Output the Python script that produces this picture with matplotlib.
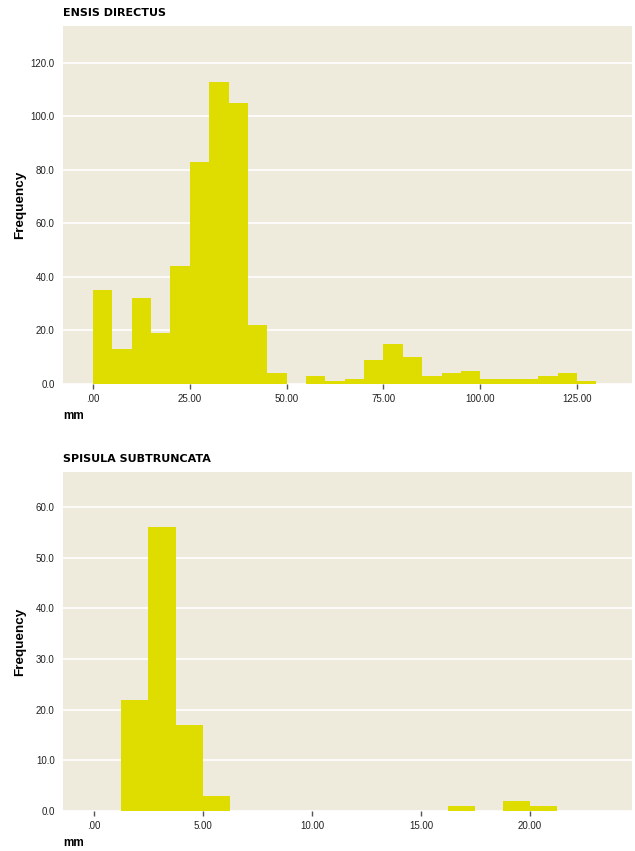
import numpy as np
import matplotlib
matplotlib.use('Agg')
import matplotlib.pyplot as plt
from matplotlib.ticker import FuncFormatter

# Datos
ensis_edges = np.arange(0, 135, 5)
ensis_counts = [35, 13, 32, 19, 44, 83, 113, 105, 22, 4, 0, 3, 1, 2, 9, 15, 10,
                3, 4, 5, 2, 2, 2, 3, 4, 1]

spisula_edges = np.arange(0, 22.5, 1.25)
spisula_counts = [0, 22, 56, 17, 3, 0, 0, 0, 0, 0, 0, 0, 0, 1, 0, 2, 1]

ensis_ticks = [0, 25, 50, 75, 100, 125]
spisula_ticks = [0, 5, 10, 15, 20]

bar_color = '#dfdc00'
bg_color = '#eeebdc'

plt.rcParams['font.family'] = ['Liberation Sans', 'DejaVu Sans']

fig = plt.figure(figsize=(6.35, 8.51), dpi=100)


def fmt_x(v, pos):
    s = '%.2f' % v
    return s[1:] if s.startswith('0') else s


def fmt_y(v, pos):
    return '%.1f' % v


def draw(ax, edges, counts, ticks, xlim, ylim, ystep, title):
    ax.set_facecolor(bg_color)
    widths = np.diff(edges)
    ax.bar(edges[:-1], counts, width=widths, align='edge', color=bar_color,
           linewidth=0, zorder=3)
    ax.set_xlim(*xlim)
    ax.set_ylim(*ylim)
    ax.set_yticks(np.arange(0, ylim[1], ystep))
    ax.set_xticks(ticks)
    ax.xaxis.set_major_formatter(FuncFormatter(fmt_x))
    ax.yaxis.set_major_formatter(FuncFormatter(fmt_y))
    ax.grid(axis='y', color='white', linewidth=1.2, zorder=1)
    for s in ax.spines.values():
        s.set_visible(False)
    ax.tick_params(axis='y', length=0, labelsize=7, labelcolor='#222222', pad=6)
    ax.tick_params(axis='x', length=3.5, width=1, color='#555555', labelsize=7,
                   labelcolor='#222222', pad=4)
    ax.set_ylabel('Frequency', fontsize=9.7, fontweight='bold')
    ax.yaxis.set_label_coords(-0.065, 0.5)
    ax.set_title(title, loc='left', fontsize=8, fontweight='heavy',
                 family='DejaVu Sans', pad=7)
    ax.annotate('mm', xy=(0, 0), xycoords='axes fraction',
                xytext=(0, -32), textcoords='offset pixels',
                fontsize=8.5, fontweight='bold', va='center', ha='left')


ax1 = fig.add_axes([0.0992, 0.5488, 0.8961, 0.4206])
draw(ax1, ensis_edges, ensis_counts, ensis_ticks, (-7.75, 139.2), (0, 133.8), 20,
     'ENSIS DIRECTUS')

ax2 = fig.add_axes([0.0992, 0.0470, 0.8961, 0.3984])
draw(ax2, spisula_edges, spisula_counts, spisula_ticks, (-1.42, 24.68), (0, 66.9), 10,
     'SPISULA SUBTRUNCATA')

fig.savefig('out.png', dpi=100)
